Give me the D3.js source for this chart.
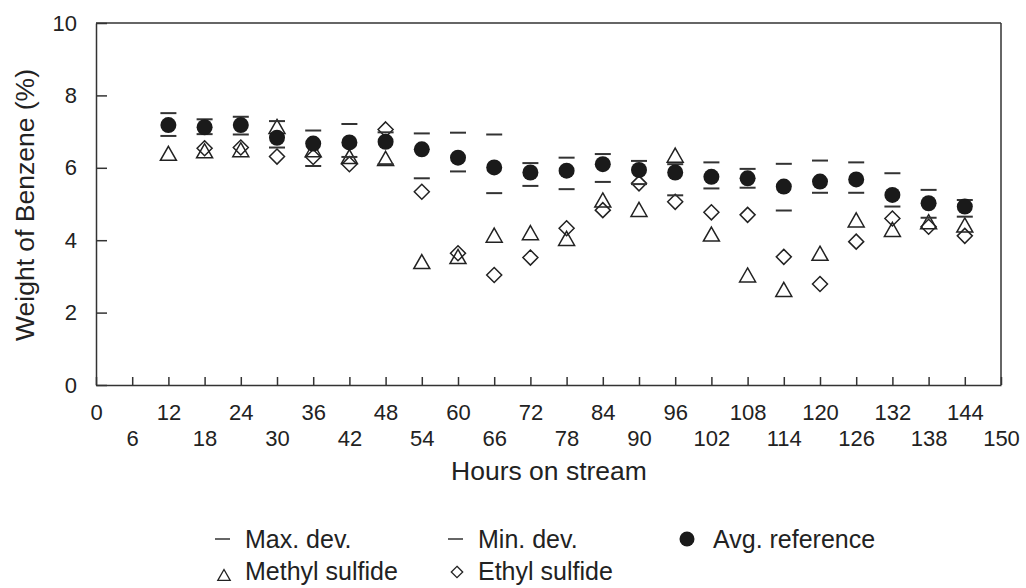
<!DOCTYPE html>
<html>
<head>
<meta charset="utf-8">
<script src="https://cdn.jsdelivr.net/npm/d3@7"></script>
<style>
  body { margin: 0; background: #fff; }
  svg { display: block; font-family: "Liberation Sans", Arial, sans-serif; }
  .axis path, .axis line { stroke: #333; stroke-width: 1.5; }
  .axis text { font-size: 22px; fill: #222; font-family: "Liberation Sans", Arial, sans-serif; }
</style>
</head>
<body>
<div id="chart"></div>
<script>
// hours on stream
var hours = [12, 18, 24, 30, 36, 42, 48, 54, 60, 66, 72, 78, 84, 90, 96, 102, 108, 114, 120, 126, 132, 138, 144];

// weight of benzene (%)
var avgRef   = [7.18, 7.12, 7.18, 6.83, 6.67, 6.70, 6.72, 6.51, 6.28, 6.01, 5.87, 5.92, 6.10, 5.94, 5.87, 5.75, 5.71, 5.48, 5.62, 5.68, 5.25, 5.02, 4.93];
var maxDev   = [7.51, 7.34, 7.41, 7.29, 7.03, 7.21, 6.98, 6.95, 6.97, 6.92, 6.13, 6.28, 6.38, 6.19, 6.10, 6.15, 5.97, 6.11, 6.20, 6.15, 5.85, 5.39, 5.11];
var minDev   = [6.88, 6.93, 6.92, 6.56, 6.05, 6.30, 6.10, 5.71, 5.90, 5.30, 5.50, 5.41, 5.61, 5.55, 5.24, 5.43, 5.45, 4.82, 5.31, 5.31, 4.93, 4.62, 4.65];
var methyl   = [6.40, 6.47, 6.50, 7.14, 6.50, 6.31, 6.26, 3.41, 3.55, 4.14, 4.21, 4.05, 5.11, 4.85, 6.35, 4.17, 3.04, 2.64, 3.64, 4.56, 4.30, 4.51, 4.42];
var ethyl    = [null, 6.54, 6.56, 6.31, 6.30, 6.10, 7.06, 5.34, 3.64, 3.04, 3.52, 4.33, 4.83, 5.57, 5.06, 4.77, 4.70, 3.54, 2.79, 3.96, 4.60, 4.37, 4.12];

var xTicks = d3.range(0, 151, 6);
var yTicks = [0, 2, 4, 6, 8, 10];

var legendItems = [
    { label: "Max. dev.", mark: "dash", row: 0, col: 0 },
    { label: "Min. dev.", mark: "dash", row: 0, col: 1 },
    { label: "Avg. reference", mark: "dot", row: 0, col: 2 },
    { label: "Methyl sulfide", mark: "tri", row: 1, col: 0 },
    { label: "Ethyl sulfide", mark: "dia", row: 1, col: 1 }
];

var W = 1026, H = 588;
var margin = { top: 23, right: 25, bottom: 203, left: 96 };

var svg = d3.select("#chart").append("svg")
    .attr("width", W)
    .attr("height", H);

var x = d3.scaleLinear().domain([0, 150]).range([margin.left, W - margin.right]);
var y = d3.scaleLinear().domain([0, 10]).range([H - margin.bottom, margin.top]);

// custom symbols, centred on their bounding box
var triangle = {
    draw: function(ctx, size) {
        var w = Math.sqrt(size) / 2, h = w * 0.88;
        ctx.moveTo(0, -h);
        ctx.lineTo(w, h);
        ctx.lineTo(-w, h);
        ctx.closePath();
    }
};
var diamond = {
    draw: function(ctx, size) {
        var r = Math.sqrt(size) / 2;
        ctx.moveTo(0, -r);
        ctx.lineTo(r, 0);
        ctx.lineTo(0, r);
        ctx.lineTo(-r, 0);
        ctx.closePath();
    }
};

// frame
svg.append("line")
    .attr("x1", x(0)).attr("x2", x(150))
    .attr("y1", y(10)).attr("y2", y(10))
    .attr("stroke", "#333").attr("stroke-width", 1.5);
svg.append("line")
    .attr("x1", x(150)).attr("x2", x(150))
    .attr("y1", y(10)).attr("y2", y(0))
    .attr("stroke", "#333").attr("stroke-width", 1.5);

// axes
var xAxis = d3.axisBottom(x)
    .tickValues(xTicks)
    .tickSizeInner(-8)
    .tickSizeOuter(0)
    .tickPadding(0)
    .tickFormat(d3.format("d"));

var gx = svg.append("g")
    .attr("class", "x-axis axis")
    .attr("transform", "translate(0," + y(0) + ")")
    .call(xAxis);

gx.selectAll(".tick text")
    .attr("dy", null)
    .attr("y", function(d) { return (d / 6) % 2 === 0 ? 35 : 61; });

var yAxis = d3.axisLeft(y)
    .tickValues(yTicks)
    .tickSizeInner(-11)
    .tickSizeOuter(0)
    .tickPadding(19);

svg.append("g")
    .attr("class", "y-axis axis")
    .attr("transform", "translate(" + x(0) + ",0)")
    .call(yAxis);

// titles
svg.append("text")
    .attr("transform", "translate(549,480) scale(1.06,1)")
    .attr("text-anchor", "middle")
    .attr("font-size", 25)
    .attr("fill", "#222")
    .text("Hours on stream");

svg.append("text")
    .attr("transform", "translate(34,205) rotate(-90) scale(1.06,1)")
    .attr("text-anchor", "middle")
    .attr("font-size", 25)
    .attr("fill", "#222")
    .text("Weight of Benzene (%)");

// data marks
var rows = hours.map(function(h, i) {
    return { h: h, avg: avgRef[i], max: maxDev[i], min: minDev[i], me: methyl[i], et: ethyl[i] };
});

var plot = svg.append("g").attr("class", "marks");

plot.selectAll(".ethyl")
    .data(rows.filter(function(d) { return d.et != null; }))
    .enter().append("path")
    .attr("class", "ethyl")
    .attr("transform", function(d) { return "translate(" + x(d.h) + "," + y(d.et) + ")"; })
    .attr("d", d3.symbol().type(diamond).size(225))
    .attr("fill", "#fff")
    .attr("stroke", "#222")
    .attr("stroke-width", 1.5);

plot.selectAll(".methyl")
    .data(rows)
    .enter().append("path")
    .attr("class", "methyl")
    .attr("transform", function(d) { return "translate(" + x(d.h) + "," + y(d.me) + ")"; })
    .attr("d", d3.symbol().type(triangle).size(256))
    .attr("fill", "none")
    .attr("stroke", "#222")
    .attr("stroke-width", 1.5);

["max", "min"].forEach(function(k) {
    plot.selectAll(".dev-" + k)
        .data(rows)
        .enter().append("line")
        .attr("class", "dev-" + k)
        .attr("x1", function(d) { return x(d.h) - 8; })
        .attr("x2", function(d) { return x(d.h) + 8; })
        .attr("y1", function(d) { return y(d[k]); })
        .attr("y2", function(d) { return y(d[k]); })
        .attr("stroke", "#333")
        .attr("stroke-width", 2);
});

plot.selectAll(".avg")
    .data(rows)
    .enter().append("circle")
    .attr("class", "avg")
    .attr("cx", function(d) { return x(d.h); })
    .attr("cy", function(d) { return y(d.avg); })
    .attr("r", 8)
    .attr("fill", "#1a1a1a");

// legend
var colX = [215, 448, 680];
var rowY = [548, 580];

var leg = svg.append("g").attr("class", "legend")
    .selectAll("g")
    .data(legendItems)
    .enter().append("g")
    .attr("transform", function(d) { return "translate(" + colX[d.col] + "," + rowY[d.row] + ")"; });

leg.each(function(d) {
    var g = d3.select(this);
    if (d.mark === "dash") {
        g.append("line").attr("x1", 0).attr("x2", 15).attr("y1", -9).attr("y2", -9)
            .attr("stroke", "#333").attr("stroke-width", 1.5);
    } else if (d.mark === "dot") {
        g.append("circle").attr("cx", 7).attr("cy", -9).attr("r", 7.5).attr("fill", "#1a1a1a");
    } else if (d.mark === "tri") {
        g.append("path").attr("transform", "translate(9,-5)")
            .attr("d", d3.symbol().type(triangle).size(256 * 0.6))
            .attr("fill", "none").attr("stroke", "#222").attr("stroke-width", 1.3);
    } else {
        g.append("path").attr("transform", "translate(9,-8)")
            .attr("d", d3.symbol().type(diamond).size(130))
            .attr("fill", "#fff").attr("stroke", "#222").attr("stroke-width", 1.3);
    }
    g.append("text")
        .attr("x", d.mark === "dot" ? 33 : 30)
        .attr("font-size", 25)
        .attr("fill", "#222")
        .text(d.label);
});
</script>
</body>
</html>
